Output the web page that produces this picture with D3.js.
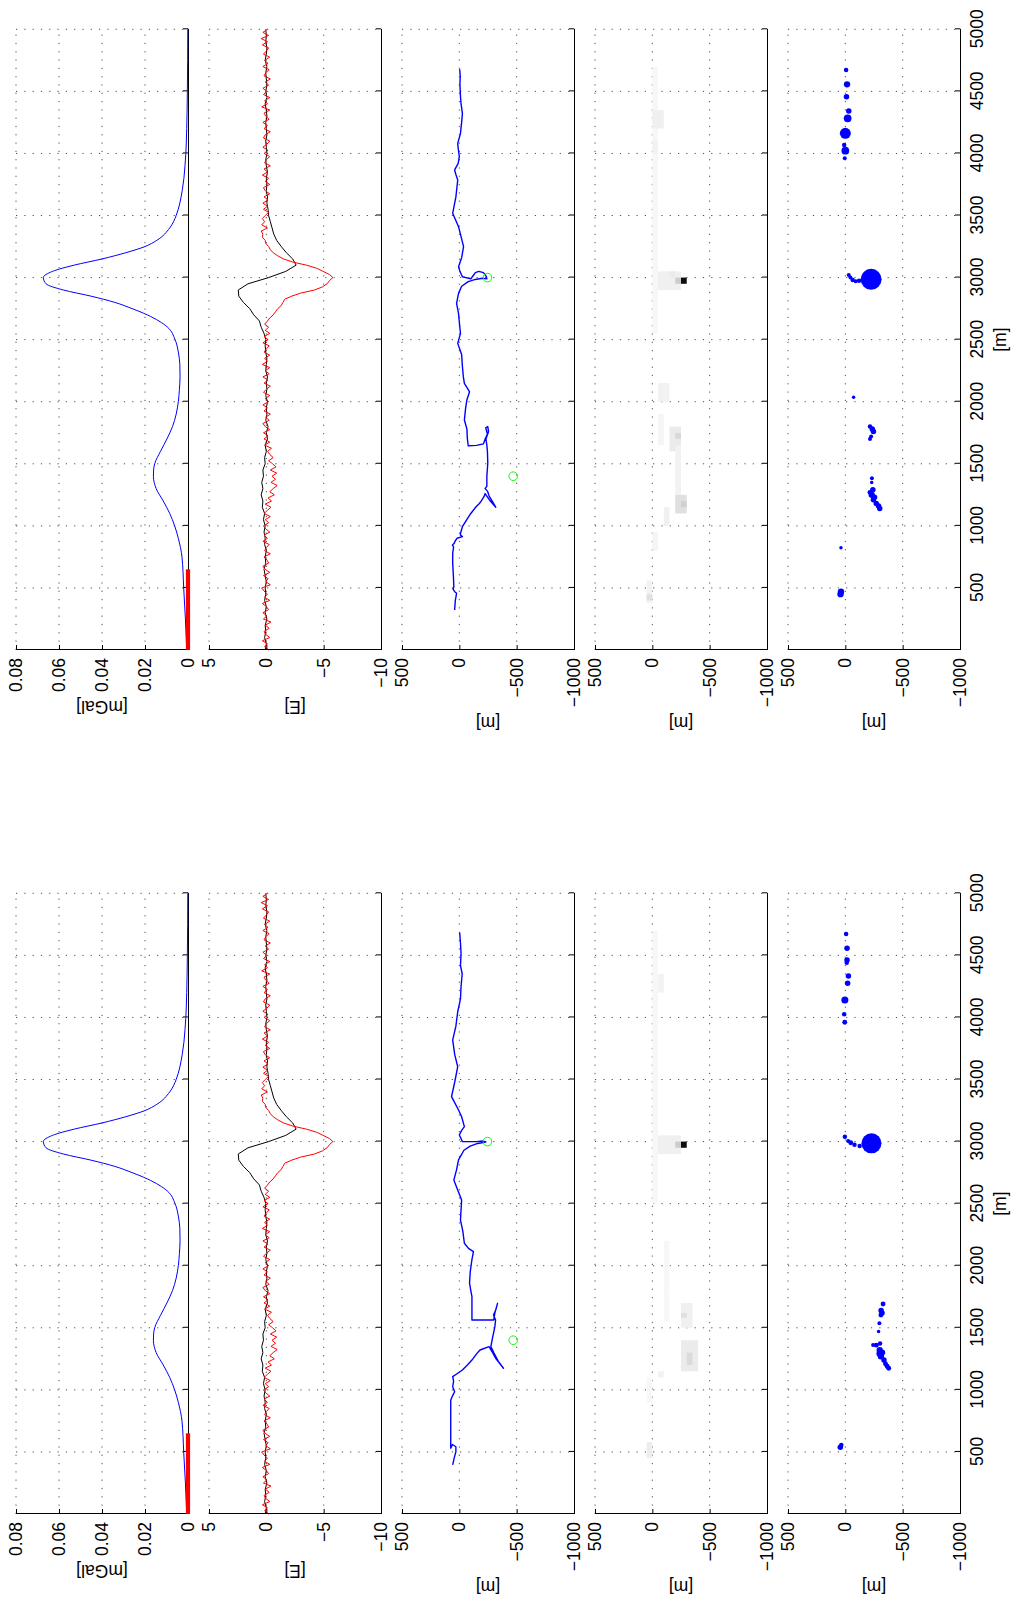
<!DOCTYPE html>
<html>
<head>
<meta charset="utf-8">
<script src="https://cdn.jsdelivr.net/npm/d3@7"></script>
<style>
  body { margin: 0; background: #fff; }
  text { font-family: "Liberation Sans", Arial, Helvetica, sans-serif; }
</style>
</head>
<body>
<svg id="fig" width="1013" height="1608"></svg>
<script>
// distance axis (along the profile)
const distTicks = [0, 500, 1000, 1500, 2000, 2500, 3000, 3500, 4000, 4500, 5000];
const distTickLabels = ["", "500", "1000", "1500", "2000", "2500", "3000", "3500", "4000", "4500", "5000"];

const gravTicks = [0, 0.02, 0.04, 0.06, 0.08];
const gravTickLabels = ["0", "0.02", "0.04", "0.06", "0.08"];
const ggTicks = [-10, -5, 0, 5];
const ggTickLabels = ["\u221210", "\u22125", "0", "5"];
const posTicks = [-1000, -500, 0, 500];
const posTickLabels = ["\u22121000", "\u2212500", "0", "500"];

// gravity anomaly [mGal]
const gravD = [0, 250, 500, 750, 900, 1000, 1100, 1200, 1300, 1400, 1450, 1500, 1600, 1700, 1800, 1900,
  2000, 2100, 2200, 2300, 2400, 2500, 2600, 2650, 2700, 2750, 2800, 2850, 2900, 2950, 3000, 3050, 3100,
  3150, 3200, 3250, 3300, 3400, 3500, 3600, 3700, 3800, 3900, 4000, 4200, 4500, 5000];
const gravV = [0.0006, 0.0012, 0.002, 0.0028, 0.0045, 0.0062, 0.0085, 0.0115, 0.0148, 0.0161, 0.016, 0.0155,
  0.0128, 0.0098, 0.0072, 0.0055, 0.0045, 0.004, 0.0037, 0.0038, 0.0045, 0.006, 0.0095, 0.0135, 0.019,
  0.026, 0.034, 0.045, 0.058, 0.066, 0.0673, 0.063, 0.053, 0.04, 0.029, 0.02, 0.0145, 0.0085, 0.0055,
  0.0038, 0.0027, 0.0019, 0.0014, 0.001, 0.0006, 0.0003, 0.0001];
// stretch of the profile flown before the survey started
const baseSegD = [0, 650];
const baseSegV = [0, 0];

// gravity gradient [E]: black every 50 m, red every 25 m
const ggBlackD = d3.range(0, 5001, 50);
const ggBlack = [0.1, 0.0, 0.15, 0.05, 0.1, -0.05, 0.1, 0.0, 0.15, 0.05, 0.1, 0.0, 0.1, 0.2, 0.05, 0.1, 0.0,
  0.15, 0.1, 0.2, 0.1, 0.25, 0.15, 0.35, 0.3, 0.45, 0.3, 0.4, 0.25, 0.3, 0.1, 0.15, 0.0, 0.1, -0.1, 0.0,
  -0.15, 0.05, -0.05, 0.0, -0.1, 0.05, -0.05, 0.0, -0.1, 0.05, 0.0, -0.05, 0.05, 0.1, 0.05, 0.2, 0.45,
  0.6, 1.1, 1.45, 2.0, 2.4, 2.45, 1.6, -0.2, -1.7, -2.6, -2.3, -1.75, -1.3, -0.9, -0.65, -0.5, -0.35,
  -0.2, -0.15, -0.05, -0.1, 0.0, -0.05, 0.0, -0.1, 0.0, 0.05, -0.05, 0.0, 0.05, -0.05, 0.0, 0.05, -0.05,
  0.0, 0.1, -0.05, 0.05, -0.05, 0.0, 0.05, -0.05, 0.1, 0.0, -0.05, 0.05, 0.0, 0.05];
const ggRedD = d3.range(0, 5001, 25);
const ggRed = [
  -0.2, 0.15, -0.1, 0.35, -0.3, 0.05, 0.2, -0.25, 0.1, -0.4,
  0.25, -0.05, 0.3, -0.2, 0.0, 0.35, -0.3, 0.15, -0.1, 0.2,
  0.4, -0.35, 0.05, -0.15, 0.25, -0.3, 0.1, 0.3, -0.2, -0.05,
  0.2, -0.35, 0.15, 0.0, -0.25, 0.3, -0.1, 0.2, -0.3, 0.05,
  0.25, -0.2, 0.1, -0.35, 0.2, -0.1, -0.4, 0.1, -0.45, -0.15,
  -0.7, -0.3, -0.6, -0.95, -0.4, -0.8, -0.5, -0.9, -0.35, -0.85,
  -0.55, -0.2, -0.6, -0.3, -0.1, -0.45, 0.15, -0.3, 0.2, -0.15,
  0.25, -0.3, 0.1, 0.3, -0.25, 0.05, -0.35, 0.2, -0.1, 0.3,
  -0.2, 0.1, -0.3, 0.25, 0.0, -0.35, 0.2, -0.15, 0.3, -0.25,
  0.1, -0.3, 0.35, -0.1, 0.15, -0.3, 0.2, 0.0, -0.25, 0.3,
  -0.15, 0.2, -0.3, 0.1, -0.2, 0.15, -0.1, -0.3, -0.6, -0.8,
  -1.0, -1.3, -1.45, -1.6, -2.2, -3.0, -4.2, -4.9, -5.3, -5.5,
  -5.8, -5.5, -4.95, -4.4, -3.5, -2.3, -1.5, -1.0, -0.6, -0.35,
  -0.2, 0.05, 0.1, 0.35, 0.3, 0.45, -0.1, 0.4, 0.15, 0.35,
  0.1, -0.2, 0.25, -0.1, 0.3, -0.15, 0.2, -0.3, 0.1, 0.25,
  -0.3, 0.1, -0.2, 0.35, -0.1, 0.2, -0.35, 0.15, 0.0, -0.3,
  0.2, -0.15, 0.3, -0.05, -0.3, 0.25, 0.1, -0.35, 0.2, -0.1,
  0.3, -0.25, 0.05, 0.2, -0.3, 0.4, -0.1, 0.15, -0.3, 0.25,
  -0.05, 0.3, -0.2, 0.1, -0.35, 0.2, 0.05, -0.25, 0.3, -0.15,
  0.15, -0.3, 0.25, 0.0, -0.2, 0.35, -0.1, 0.45, -0.2, 0.3,
  -0.1];

// estimated source positions of the first run
const trackAD = [322, 400, 457, 470, 490, 510, 600, 700, 779, 830, 845, 859, 880, 900, 913, 925, 940, 993,
  1050, 1100, 1154, 1180, 1200, 1235, 1260, 1200, 1150, 1180, 1240, 1280, 1300, 1320, 1400, 1504, 1600,
  1650, 1700, 1760, 1800, 1790, 1740, 1700, 1660, 1648, 1645, 1700, 1780, 1853, 1950, 2014, 2080, 2110,
  2148, 2200, 2282, 2380, 2470, 2551, 2640, 2712, 2793, 2873, 2930, 2967, 2985, 2995, 2990, 3010, 3040,
  3050, 3040, 3015, 2990, 3007, 3050, 3088, 3160, 3249, 3330, 3410, 3518, 3650, 3786, 3830, 3867, 3920,
  3974, 4040, 4081, 4162, 4250, 4323, 4400, 4457, 4560, 4620, 4678];
const trackAY = [41, 35, 24, 40, 55, 48, 52, 58, 58, 50, 60, 45, 35, 20, -27, -10, -10, -27, -65, -100,
  -146, -175, -190, -215, -225, -270, -318, -300, -260, -245, -225, -240, -240, -248, -245, -240, -232,
  -255, -248, -230, -245, -225, -210, -150, -78, -70, -66, -44, -55, -66, -89, -70, -44, -35, -27, -20,
  14, -10, 0, 7, 24, 7, -20, -78, -140, -200, -240, -235, -210, -170, -140, -120, -100, -27, -5, 7, -20,
  -37, -15, 7, 58, 30, 14, 30, 41, 10, 0, 10, 14, -10, -20, -27, -15, -10, -5, -8, -3];
// estimated source positions of the second run
const trackBD = [395, 450, 500, 542, 560, 530, 700, 918, 950, 985, 1025, 1070, 1106, 1130, 1160, 1200,
  1240, 1290, 1321, 1348, 1300, 1250, 1174, 1230, 1300, 1348, 1420, 1509, 1563, 1603, 1650, 1697, 1620,
  1563, 1563, 1650, 1751, 1800, 1860, 1950, 2050, 2113, 2140, 2181, 2280, 2368, 2450, 2529, 2600, 2690,
  2770, 2852, 2930, 2964, 2985, 2997, 3005, 3000, 3000, 3053, 3090, 3120, 3200, 3254, 3362, 3480, 3603,
  3700, 3818, 3930, 4046, 4150, 4249, 4350, 4420, 4517, 4600, 4683];
const trackBY = [58, 45, 30, 30, 60, 75, 75, 75, 60, 41, 58, 50, 58, 20, -27, -70, -110, -150, -180,
  -259, -290, -320, -385, -340, -300, -275, -290, -310, -316, -298, -320, -333, -310, -300, -110, -110,
  -110, -100, -89, -95, -110, -123, -80, -44, -30, -10, -15, -20, 10, 48, 25, 7, -40, -95, -160, -230,
  -200, -150, -27, 0, -20, -44, -20, 7, 68, 40, 14, 40, 58, 30, 14, -10, -15, -25, -10, -15, -10, -3];
// true source positions
const sourceD = [3000, 1400];
const sourceY = [-245, -470];

// source density cells: [d from, d to, y from, y to, density]
const cellsA = [
  [2550, 4700, -50, 0, 0.03], [4200, 4350, -100, 0, 0.06], [4000, 4100, -50, 0, 0.05],
  [2900, 3050, -250, -50, 0.06], [3000, 3050, -200, -150, 0.08], [2950, 3000, -250, -200, 0.2],
  [2950, 3000, -300, -250, 0.95], [2000, 2150, -150, -50, 0.05], [1650, 1900, -100, -50, 0.04],
  [1600, 1800, -250, -150, 0.08], [1700, 1750, -250, -200, 0.15], [1100, 1650, -250, -200, 0.05],
  [1100, 1250, -300, -200, 0.12], [1150, 1200, -300, -250, 0.18], [1000, 1150, -150, -100, 0.06],
  [800, 950, -50, 0, 0.04], [380, 560, 0, 50, 0.05], [400, 450, 0, 50, 0.12]];
const cellsB = [
  [2500, 4700, -50, 0, 0.03], [4200, 4350, -100, -50, 0.05], [2900, 3050, -250, -50, 0.06],
  [2950, 3000, -250, -200, 0.2], [2950, 3000, -300, -250, 0.95], [1800, 2200, -150, -100, 0.03],
  [1550, 1800, -150, -100, 0.03], [1500, 1700, -350, -250, 0.06], [1580, 1620, -300, -250, 0.12],
  [1150, 1400, -400, -250, 0.08], [1200, 1300, -350, -300, 0.14], [1100, 1150, -100, -50, 0.05],
  [900, 1100, 0, 50, 0.03], [450, 580, 0, 50, 0.07]];

// clustered solutions: distance, offset, weight
const dotsAD = [4672, 4557, 4457, 4342, 4283, 4162, 4068, 4022, 3961, 3021, 3000, 2981, 2970, 2975, 2986,
  2036, 1800, 1780, 1760, 1720, 1700, 1383, 1350, 1290, 1270, 1250, 1230, 1210, 1180, 1160, 1140, 824,
  470, 450];
const dotsAY = [-7, -15, -10, -30, -20, 0, 10, 0, 5, -30, -45, -64, -90, -120, -225, -72, -215, -235,
  -245, -225, -215, -232, -230, -240, -215, -230, -255, -245, -270, -290, -300, 38, 38, 42];
const dotsAW = [1, 2, 1.5, 1.5, 3, 6, 1, 3, 0.8, 0.8, 0.8, 1, 0.8, 1, 22, 0.6, 1, 1.5, 1.5, 0.8, 0.8,
  0.8, 0.6, 1.5, 1.2, 2, 1.5, 1.5, 1.5, 1.5, 1.5, 0.6, 2, 2];
const dotsBD = [4672, 4557, 4463, 4440, 4334, 4275, 4140, 4025, 3961, 3039, 3005, 2991, 2975, 2964, 2986,
  537, 555, 1692, 1640, 1620, 1603, 1536, 1470, 1374, 1361, 1360, 1320, 1300, 1290, 1270, 1240, 1210,
  1190, 1174];
const dotsBY = [-7, -15, -15, -12, -27, -20, 4, 10, 5, 4, -25, -47, -80, -125, -228, 44, 35, -329, -312,
  -320, -310, -297, -290, -303, -242, -270, -300, -320, -295, -310, -337, -350, -365, -378];
const dotsBW = [1, 1.5, 1.5, 1, 1.5, 1.5, 2.5, 1, 1.2, 1, 0.8, 1.2, 1, 1, 20, 1.5, 1, 1.2, 1.5, 1.5, 1.2,
  0.8, 0.6, 1, 0.8, 1.2, 2, 2, 1.5, 2, 1.5, 1.2, 1.2, 1.2];

const svg = d3.select("#fig");
const plotLen = 620.7;      // 0..5000 m
const panelTop0 = 16, panelStep = 193, panelH = 172;
const fontSize = 17.5;

const zip = (a, b) => a.map((v, i) => [v, b[i]]);

const panels = [
  { domain: [0, 0.08], ticks: gravTicks, labels: gravTickLabels, ylabel: "[mGal]", labelOff: 57 },
  { domain: [-10, 5], ticks: ggTicks, labels: ggTickLabels, ylabel: "[E]", labelOff: 57 },
  { domain: [-1000, 500], ticks: posTicks, labels: posTickLabels, ylabel: "[m]", labelOff: 73 },
  { domain: [-1000, 500], ticks: posTicks, labels: posTickLabels, ylabel: "[m]", labelOff: 73 },
  { domain: [-1000, 500], ticks: posTicks, labels: posTickLabels, ylabel: "[m]", labelOff: 73 }
];

function drawFigure(originY, run) {
  // the figure is laid out landscape and turned a quarter turn
  const g = svg.append("g").attr("transform", `translate(0,${originY}) rotate(-90)`);
  const x = d3.scaleLinear().domain([0, 5000]).range([0, plotLen]);
  const shade = d3.scaleLinear().domain([0, 1]).range(["#ffffff", "#000000"]);
  const rad = d3.scaleSqrt().domain([0, 22]).range([0, 10.5]);

  panels.forEach((p, i) => {
    const top = panelTop0 + i * panelStep;
    const y = d3.scaleLinear().domain(p.domain).range([top + panelH, top]);
    const pg = g.append("g");

    // dotted grid
    pg.append("g").selectAll("line").data(distTicks.slice(1)).join("line")
      .attr("x1", d => x(d)).attr("x2", d => x(d)).attr("y1", top).attr("y2", top + panelH);
    pg.append("g").selectAll("line").data(p.ticks.slice(1)).join("line")
      .attr("x1", 0).attr("x2", plotLen).attr("y1", v => y(v)).attr("y2", v => y(v));
    pg.selectAll("line").attr("stroke", "#222").attr("stroke-width", 0.8)
      .attr("stroke-dasharray", "1.2,7.1");

    const plot = pg.append("g");
    if (i === 0) {
      plot.append("path").datum(zip(gravD, gravV))
        .attr("fill", "none").attr("stroke", "#0000ff").attr("stroke-width", 1)
        .attr("d", d3.line().x(d => x(d[0])).y(d => y(d[1])).curve(d3.curveMonotoneX));
    } else if (i === 1) {
      [[ggBlackD, ggBlack, "#000"], [ggRedD, ggRed, "#ff0000"]].forEach(([ds, vals, col]) => {
        plot.append("path").datum(zip(ds, vals))
          .attr("fill", "none").attr("stroke", col).attr("stroke-width", 1)
          .attr("d", d3.line().x(d => x(d[0])).y(d => y(d[1])));
      });
    } else if (i === 2) {
      plot.append("path").datum(zip(run.trackD, run.trackY))
        .attr("fill", "none").attr("stroke", "#0000ff").attr("stroke-width", 1.4)
        .attr("stroke-linejoin", "round")
        .attr("d", d3.line().x(d => x(d[0])).y(d => y(d[1])));
      plot.selectAll("circle").data(zip(sourceD, sourceY)).join("circle")
        .attr("cx", d => x(d[0])).attr("cy", d => y(d[1])).attr("r", 4.3)
        .attr("fill", "none").attr("stroke", "#00ff00").attr("stroke-width", 1);
    } else if (i === 3) {
      plot.selectAll("rect").data(run.cells).join("rect")
        .attr("x", c => x(c[0])).attr("width", c => x(c[1]) - x(c[0]))
        .attr("y", c => y(c[3])).attr("height", c => y(c[2]) - y(c[3]))
        .attr("fill", c => shade(c[4]));
    } else {
      plot.selectAll("circle").data(run.dotsD.map((d, k) => [d, run.dotsY[k], run.dotsW[k]])).join("circle")
        .attr("cx", d => x(d[0])).attr("cy", d => y(d[1])).attr("r", d => rad(d[2]))
        .attr("fill", "#0000ff");
    }

    // axes: value axis on the left, distance axis at the bottom, ticks pointing in
    const yAxis = d3.axisLeft(y).tickValues(p.ticks)
      .tickFormat((v, k) => p.labels[k]).tickSizeInner(-5).tickSizeOuter(0).tickPadding(8);
    const xAxis = d3.axisBottom(x).tickValues(distTicks)
      .tickFormat((v, k) => (i === 4 ? distTickLabels[k] : "")).tickSizeInner(-5).tickSizeOuter(0)
      .tickPadding(10.5);
    const ya = pg.append("g").call(yAxis);
    const xa = pg.append("g").attr("transform", `translate(0,${top + panelH})`).call(xAxis);
    [ya, xa].forEach(a => {
      a.select(".domain").attr("stroke", "#000").attr("stroke-width", 1);
      a.selectAll(".tick line").attr("stroke", "#000").attr("stroke-width", 1);
      a.selectAll("text").attr("font-size", fontSize).attr("fill", "#000");
    });

    if (i === 0) {
      plot.append("path").datum(zip(baseSegD, baseSegV))
        .attr("fill", "none").attr("stroke", "#ff0000").attr("stroke-width", 4.2)
        .attr("d", d3.line().x(d => x(d[0])).y(d => y(d[1])));
      plot.raise();
    }

    pg.append("text")
      .attr("transform", `translate(${-p.labelOff},${top + panelH / 2}) rotate(-90)`)
      .attr("text-anchor", "middle").attr("dy", "0.35em")
      .attr("font-size", fontSize).text(p.ylabel);
  });

  g.append("text")
    .attr("x", plotLen / 2).attr("y", 1000).attr("dy", "0.35em")
    .attr("text-anchor", "middle").attr("font-size", fontSize).text("[m]");
}

drawFigure(650, { trackD: trackAD, trackY: trackAY, cells: cellsA, dotsD: dotsAD, dotsY: dotsAY, dotsW: dotsAW });
drawFigure(1514, { trackD: trackBD, trackY: trackBY, cells: cellsB, dotsD: dotsBD, dotsY: dotsBY, dotsW: dotsBW });
</script>
</body>
</html>
